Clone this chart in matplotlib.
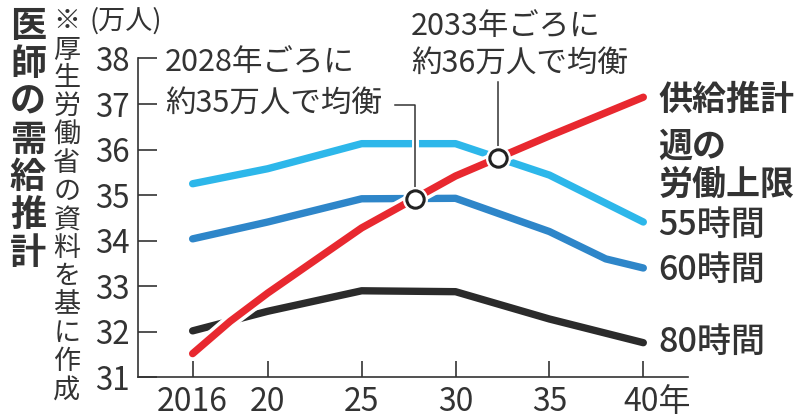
import numpy as np
import matplotlib
matplotlib.use("Agg")
import matplotlib.pyplot as plt
import matplotlib.patheffects as pe
from matplotlib.transforms import ScaledTranslation

plt.rcParams['font.family'] = ['Noto Sans CJK JP', 'DejaVu Sans']

# data (万人)
years = [2016, 2020, 2025, 2030, 2035, 2040]
years_s = [2016, 2018, 2020, 2025, 2030, 2035, 2040]
supply = [31.52, 32.23, 32.85, 34.28, 35.42, 36.30, 37.15]
h55 = [35.25, 35.58, 36.13, 36.13, 35.44, 34.41]
years60 = [2016, 2020, 2025, 2030, 2035, 2038, 2040]
h60 = [34.04, 34.41, 34.92, 34.93, 34.20, 33.60, 33.40]
h80 = [32.02, 32.45, 32.90, 32.88, 32.28, 31.76]

xticks = [2016, 2020, 2025, 2030, 2035, 2040]
xticklabels = ['2016', '20', '25', '30', '35', '40年']
yticks = [31, 32, 33, 34, 35, 36, 37, 38]

c_red = '#e8282f'
c_lblue = '#2db7ea'
c_blue = '#2e86c9'
c_black = '#2b2b2b'
c_text = '#333333'

W, H = 799, 419
fig = plt.figure(figsize=(W / 100, H / 100), dpi=100)
ax = fig.add_axes([138 / W, 0.0995, 550 / W, 0.7609])


def px(x, y):
    return x / W, 1 - y / H


def crossing(xa, ya, xb, yb):
    t = np.linspace(2016, 2040, 4801)
    d = np.interp(t, xa, ya) - np.interp(t, xb, yb)
    i = np.where(np.diff(np.sign(d)) != 0)[0][0]
    x0 = t[i] - d[i] * (t[i + 1] - t[i]) / (d[i + 1] - d[i])
    return x0, np.interp(x0, xa, ya)


lw = 5.3
ax.plot(years, h80, color=c_black, lw=lw, solid_capstyle='round', zorder=2)
ax.plot(years60, h60, color=c_blue, lw=lw, solid_capstyle='round', zorder=2)
ax.plot(years, h55, color=c_lblue, lw=lw, solid_capstyle='round', zorder=2)
ax.plot(years_s, supply, color=c_red, lw=lw, solid_capstyle='round', zorder=4,
        path_effects=[pe.Stroke(linewidth=lw + 5, foreground='white'), pe.Normal()])

# equilibrium points
x1, y1 = crossing(years_s, supply, years60, h60)
x2, y2 = crossing(years_s, supply, years, h55)

halo = [pe.Stroke(linewidth=5, foreground='white'), pe.Normal()]
ax.plot([x1, x1, 2026.8], [y1, 36.98, 36.98], color=c_text, lw=1.1, zorder=3,
        path_effects=halo)
ax.plot([x2, x2], [y2, 37.48], color=c_text, lw=1.1, zorder=3, path_effects=halo)
ax.plot([x1, x2], [y1, y2], 'o', ms=17, color='white', zorder=5)
ax.plot([x1, x2], [y1, y2], 'o', ms=12.5, mfc='white', mec='#222222', mew=2.2, zorder=6)

ax.set_xlim(2013.09, 2042.38)
ax.set_ylim(31, 38)
ax.set_xticks(xticks)
ax.set_xticklabels(xticklabels)
ax.set_yticks(yticks)
for s in ['top', 'right']:
    ax.spines[s].set_visible(False)
for s in ['left', 'bottom']:
    ax.spines[s].set_color(c_text)
    ax.spines[s].set_linewidth(1.2)
ax.tick_params(axis='y', direction='in', length=14, width=1.2, color=c_text,
               labelsize=22.5, labelcolor=c_text, pad=6)
ax.tick_params(axis='x', direction='in', length=11.5, width=1.2, color=c_text,
               labelsize=23, labelcolor=c_text, pad=6)
lab = ax.get_xticklabels()[-1]
lab.set_transform(lab.get_transform() + ScaledTranslation(14 / 100, 0, fig.dpi_scale_trans))

# line labels at the right end
pt = 0.72
fs = 24.5
ax.annotate('供給推計', (years_s[-1], supply[-1]), xytext=(15 * pt, -2 * pt),
            textcoords='offset points', va='center', fontsize=fs, fontweight='bold', color=c_text)
ax.annotate('週の', (years[-1], h55[-1]), xytext=(15 * pt, 76 * pt),
            textcoords='offset points', va='center', fontsize=fs, fontweight='bold', color=c_text)
ax.annotate('労働上限', (years[-1], h55[-1]), xytext=(15 * pt, 38 * pt),
            textcoords='offset points', va='center', fontsize=fs, fontweight='bold', color=c_text)
ax.annotate('55時間', (years[-1], h55[-1]), xytext=(15 * pt, -3 * pt),
            textcoords='offset points', va='center', fontsize=fs, fontweight='medium', color=c_text)
ax.annotate('60時間', (years60[-1], h60[-1]), xytext=(15 * pt, -2 * pt),
            textcoords='offset points', va='center', fontsize=fs, fontweight='medium', color=c_text)
ax.annotate('80時間', (years[-1], h80[-1]), xytext=(15 * pt, 0),
            textcoords='offset points', va='center', fontsize=fs, fontweight='medium', color=c_text)

# callouts
fig.text(*px(165, 62), '2028年ごろに', va='center', ha='left', fontsize=22, color=c_text)
fig.text(*px(165, 103), '約35万人で均衡', va='center', ha='left', fontsize=22, color=c_text)
fig.text(*px(411, 26), '2033年ごろに', va='center', ha='left', fontsize=22, color=c_text)
fig.text(*px(411, 63), '約36万人で均衡', va='center', ha='left', fontsize=22, color=c_text)

fig.text(*px(89, 21), '(万人)', va='center', ha='left', fontsize=19.5, color=c_text)

# vertical title and note
title = '医師の需給推計'
for i, ch in enumerate(title):
    fig.text(*px(28, 27 + i * 37.7), ch, ha='center', va='center', fontsize=26,
             fontweight='bold', color=c_text)
note = '※厚生労働省の資料を基に作成'
for i, ch in enumerate(note):
    fig.text(*px(67, 22 + i * 28.3), ch, ha='center', va='center', fontsize=19.5, color=c_text)

fig.savefig('out.png', dpi=100)
